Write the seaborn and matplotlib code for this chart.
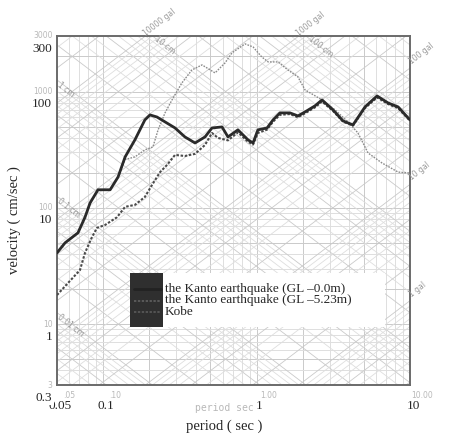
import numpy as np
import pandas as pd
import matplotlib
matplotlib.use("Agg")
import matplotlib.pyplot as plt
import seaborn as sns
from matplotlib.transforms import ScaledTranslation
from matplotlib.patches import Rectangle
from matplotlib.lines import Line2D

# ---------------- data ----------------
kanto0_T = [0.05, 0.0564, 0.0685, 0.0761, 0.0821, 0.0925, 0.111, 0.125, 0.139, 0.161,
            0.187, 0.202, 0.224, 0.253, 0.294, 0.341, 0.397, 0.461, 0.512, 0.595,
            0.651, 0.756, 0.879, 0.948, 1.02, 1.17, 1.28, 1.42, 1.65, 1.86,
            2.07, 2.40, 2.67, 3.15, 3.66, 4.25, 5.09, 6.10, 7.19, 8.36, 10.0]
kanto0_V = [4.1, 5.0, 6.1, 8.3, 11.0, 14.3, 14.3, 18.4, 27.4, 38.4,
            57.0, 62.9, 60.4, 54.8, 48.6, 40.7, 36.1, 40.7, 48.6, 49.6,
            40.7, 46.8, 38.4, 36.1, 46.8, 48.6, 57.0, 65.5, 65.5, 61.7,
            66.8, 75.2, 84.7, 69.5, 55.9, 51.6, 73.7, 91.6, 79.8, 73.7, 57.0]

kanto5_T = [0.05, 0.059, 0.0706, 0.0761, 0.0846, 0.0911, 0.103, 0.123, 0.139, 0.161,
            0.187, 0.208, 0.235, 0.261, 0.294, 0.341, 0.397, 0.461, 0.512, 0.56,
            0.651, 0.756, 0.879, 0.948, 1.02, 1.17, 1.28, 1.42, 1.65, 1.86,
            2.07, 2.40, 2.67, 3.15, 3.66, 4.25, 5.09, 6.10, 7.19, 8.36, 10.0]
kanto5_V = [1.78, 2.26, 2.92, 4.1, 5.62, 6.72, 7.13, 8.3, 10.2, 10.6,
            12.4, 15.7, 20.3, 23.4, 28.5, 27.9, 29.1, 34.7, 44.0, 39.9,
            38.0, 44.5, 37.0, 35.0, 44.0, 47.0, 55.0, 63.0, 64.0, 60.0,
            65.0, 73.0, 82.0, 68.0, 55.0, 51.0, 72.0, 89.0, 78.0, 72.0, 56.0]

kobe_T = [0.05, 0.0564, 0.0685, 0.0761, 0.0821, 0.0925, 0.111, 0.125, 0.139, 0.161,
          0.187, 0.211, 0.228, 0.253, 0.281, 0.326, 0.379, 0.441, 0.536, 0.623,
          0.691, 0.840, 0.948, 1.08, 1.19, 1.38, 1.60, 1.86, 2.07, 2.67,
          3.25, 3.94, 4.58, 5.33, 6.57, 8.36, 10.0]
kobe_V = [4.1, 5.0, 6.1, 8.3, 11.0, 14.3, 14.3, 18.4, 26.0, 27.4,
          31.5, 33.4, 46.8, 65.5, 84.7, 118.6, 153.3, 169.3, 144.5, 176.2,
          214.8, 256.7, 241.7, 198.3, 179.6, 179.6, 153.3, 133.5, 103.2, 84.7,
          69.5, 54.8, 44.0, 29.6, 24.3, 20.3, 19.9]

series_names = ["the Kanto earthquake (GL \u20130.0m)",
                "the Kanto earthquake (GL \u20135.23m)",
                "Kobe"]

x_ticks = [0.05, 0.1, 1, 10]
x_ticklabels = ["0.05", "0.1", "1", "10"]
y_ticks = [0.3, 1, 10, 100, 300]
y_ticklabels = ["0.3", "1", "10", "100", "300"]

disp_labels = {0.01: "0.01 cm", 0.1: "0.1 cm", 1: "1 cm", 10: "10 cm", 100: "100 cm"}
acc_labels = {10000: "10000 gal", 1000: "1000 gal", 100: "100 gal", 10: "10 gal", 1: "1 gal"}

# ---------------- figure ----------------
sns.set_style("white")
plt.rcParams["font.family"] = ["Liberation Serif", "DejaVu Serif"]

W, H = 449, 436
fig = plt.figure(figsize=(W / 100, H / 100), dpi=100)
fx = lambda px: px / W
fy = lambda py: 1 - py / H
ax = fig.add_axes([fx(57), fy(385), 353 / W, 349 / H])
ax.set_xscale("log")
ax.set_yscale("log")
TMIN, TMAX, VMIN, VMAX = 0.05, 10, 0.3, 300
ax.set_xlim(TMIN, TMAX)
ax.set_ylim(VMIN, VMAX)

# tripartite grid
gmin, gmaj = "#dedede", "#cacaca"
for e in range(-2, 2):
    for k in range(1, 10):
        t = k * 10.0 ** e
        if TMIN < t < TMAX:
            ax.axvline(t, color=gmaj if k in (1, 2, 5) else gmin, lw=0.7, zorder=1)
for e in range(-1, 3):
    for k in range(1, 10):
        v = k * 10.0 ** e
        if VMIN < v < VMAX:
            ax.axhline(v, color=gmaj if k in (1, 2, 5) else gmin, lw=0.7, zorder=1)
Tg = np.logspace(np.log10(TMIN), np.log10(TMAX), 60)
for e in range(-4, 4):
    for k in range(1, 10):
        D = k * 10.0 ** e
        ax.plot(Tg, 2 * np.pi * D / Tg, color=gmaj if k in (1, 2, 5) else gmin,
                lw=0.6, zorder=1)
for e in range(-2, 6):
    for k in range(1, 10):
        A = k * 10.0 ** e
        ax.plot(Tg, A * Tg / (2 * np.pi), color=gmaj if k in (1, 2, 5) else gmin,
                lw=0.6, zorder=1)

# curves
sns.lineplot(x=kobe_T, y=kobe_V, ax=ax, color="#8c8c8c", lw=1.0,
             linestyle=(0, (1.2, 0.9)), sort=False, estimator=None, legend=False, zorder=4)
sns.lineplot(x=kanto5_T, y=kanto5_V, ax=ax, color="#4a4a4a", lw=1.5,
             linestyle=(0, (1.2, 0.8)), sort=False, estimator=None, legend=False, zorder=5)
sns.lineplot(x=kanto0_T, y=kanto0_V, ax=ax, color="#2a2a2a", lw=2.0,
             sort=False, estimator=None, legend=False, zorder=6)

# grid-line labels
lab_kw = dict(color="#9a9a9a", fontsize=5.5, family="DejaVu Sans", rotation_mode="anchor",
              va="center", clip_on=False, zorder=3)
ang = 38
for D, s in disp_labels.items():
    v_left = 2 * np.pi * D / TMIN
    if v_left < VMAX:
        ax.text(TMIN * 1.02, v_left * 0.93, s, rotation=-ang, ha="left", **lab_kw)
    else:
        t_top = 2 * np.pi * D / VMAX
        ax.text(t_top * 1.05, VMAX * 0.97, s, rotation=-ang, ha="left", **lab_kw)
for A, s in acc_labels.items():
    v_right = A * TMAX / (2 * np.pi)
    if v_right < VMAX:
        ax.text(TMAX * 1.01, v_right * 1.12, s, rotation=ang, ha="left", **lab_kw)
    else:
        t_top = 2 * np.pi * VMAX / A
        ax.text(t_top * 0.98, VMAX * 1.03, s, rotation=ang, ha="left", **lab_kw)

# axes, ticks
for sp in ax.spines.values():
    sp.set_color("#6a6a6a")
    sp.set_linewidth(1.4)
ax.set_xticks(x_ticks)
ax.set_xticklabels(x_ticklabels)
ax.set_yticks(y_ticks)
ax.set_yticklabels(y_ticklabels)
ax.tick_params(axis="x", which="major", direction="in", length=3, color="#888888",
               pad=10.5, labelsize=9.5)
ax.tick_params(axis="y", which="major", direction="in", length=3, color="#888888",
               pad=3.5, labelsize=9.5)
ax.tick_params(which="minor", direction="in", length=2, color="#999999")
ax.xaxis.set_zorder(3)
ax.yaxis.set_zorder(3)
for lab in ax.get_yticklabels():
    lab.set_transform(lab.get_transform() + ScaledTranslation(0, -0.11, fig.dpi_scale_trans))
    lab.set_bbox(dict(boxstyle="square,pad=0.15", fc="white", ec="none"))
for lab in ax.get_xticklabels():
    lab.set_transform(lab.get_transform() + ScaledTranslation(0.03, 0, fig.dpi_scale_trans))
    lab.set_bbox(dict(boxstyle="square,pad=0.15", fc="white", ec="none"))

ax.set_xlabel("period ( sec )", fontsize=10.5)
ax.xaxis.set_label_coords((224 - 57) / 353, (385 - 420) / 349)
ax.set_ylabel("velocity ( cm/sec )", fontsize=10.5)
ax.yaxis.set_label_coords((21 - 57) / 353, (385 - 220) / 349)

# faint scanned labels of the original chart
faint = dict(color="#b8b8b8", fontsize=5.5, family="DejaVu Sans", clip_on=False, zorder=0.2)
for v, s in zip([300, 100, 10, 1, 0.3], ["3000", "1000", "100", "10", "3"]):
    ax.text(-0.012, v, s, transform=ax.get_yaxis_transform(), ha="right", va="center", **faint)
for t, s in zip([0.05, 0.1, 1, 10], [".05", ".10", "1.00", "10.00"]):
    ax.text(t * 1.2, -0.03, s, transform=ax.get_xaxis_transform(), ha="center", va="center", **faint)
ax.text(0.475, -0.066, "period sec", transform=ax.transAxes, ha="center", va="center",
        color="#b8b8b8", fontsize=7, family="DejaVu Sans Mono", clip_on=False, zorder=0.2)

# legend box (drawn as in the reference: white box with dark swatch column)
fig.add_artist(Rectangle((fx(130), fy(327)), (385 - 130) / W, 54 / H,
                         transform=fig.transFigure, fc="white", ec="none", zorder=5))
fig.add_artist(Rectangle((fx(130), fy(327)), 33 / W, 54 / H,
                         transform=fig.transFigure, fc="#2f2f2f", ec="none", zorder=6))
leg_styles = [dict(color="#222222", lw=2.0),
              dict(color="#5a5a5a", lw=1.4, linestyle=(0, (1.2, 0.8))),
              dict(color="#555555", lw=1.4, linestyle=(0, (1.2, 0.8)))]
for i, (name, st) in enumerate(zip(series_names, leg_styles)):
    yy = 289 + i * 11.5
    fig.add_artist(Line2D([fx(134), fx(161)], [fy(yy), fy(yy)], transform=fig.transFigure,
                          zorder=7, **st))
    fig.text(fx(165), fy(yy), name, fontsize=9.5, ha="left", va="center", zorder=7)

fig.savefig("out.png", dpi=100, facecolor="white")
